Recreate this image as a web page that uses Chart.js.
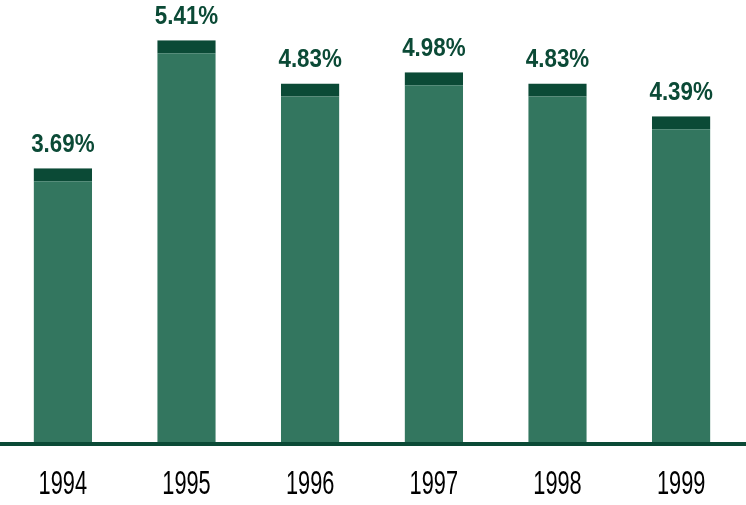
<!DOCTYPE html>
<html>
<head>
<meta charset="utf-8">
<script src="https://cdn.jsdelivr.net/npm/chart.js@4"></script>
<style>
  html, body { margin: 0; padding: 0; background: #fff; }
  #wrap { width: 746px; height: 505px; }
</style>
</head>
<body>
<div id="wrap"><canvas id="chart" width="746" height="505"></canvas></div>
<script>
// data
const years = ["1994", "1995", "1996", "1997", "1998", "1999"];
const rates = [3.69, 5.41, 4.83, 4.98, 4.83, 4.39];

const barColor = "#33765f";
const capColor = "#0b4a36";

// no condensed font installed, so squeeze the text horizontally
function narrowText(ctx, text, x, y, sx) {
  ctx.save();
  ctx.translate(x, y);
  ctx.scale(sx, 1);
  ctx.fillText(text, 0, 0);
  ctx.restore();
}

// value labels, year labels and baseline
const extras = {
  id: "extras",
  afterDatasetsDraw(chart) {
    let ctx = chart.ctx;
    let meta = chart.getDatasetMeta(0);
    let xs = chart.scales.x;
    let y0 = chart.scales.y.getPixelForValue(0);

    ctx.save();
    ctx.fillStyle = capColor;
    ctx.fillRect(0, y0 - 1, chart.width, 4);

    ctx.textAlign = "center";
    ctx.textBaseline = "alphabetic";
    ctx.font = "bold 26px 'Liberation Sans', Arial, sans-serif";
    meta.data.forEach((bar, i) => {
      narrowText(ctx, rates[i].toFixed(2) + "%", bar.x, bar.y - 16, 0.86);
    });

    ctx.fillStyle = "#000";
    ctx.font = "33px 'Liberation Sans', Arial, sans-serif";
    chart.data.labels.forEach((lab, i) => {
      narrowText(ctx, lab, xs.getPixelForTick(i), y0 + 51, 0.66);
    });
    ctx.restore();
  }
};

let ctx = document.getElementById("chart").getContext("2d");

let chart = new Chart(ctx, {
  type: "bar",
  data: {
    labels: years,
    datasets: [{
      data: rates,
      backgroundColor: barColor,
      borderColor: capColor,
      borderWidth: { top: 13, left: 0, right: 0, bottom: 0 },
      borderSkipped: false,
      barPercentage: 0.473,
      categoryPercentage: 1
    }]
  },
  options: {
    responsive: false,
    animation: false,
    layout: { padding: { top: 0, left: 1, right: 3, bottom: 62 } },
    plugins: {
      legend: { display: false },
      tooltip: { enabled: false }
    },
    scales: {
      x: {
        grid: { display: false, drawTicks: false },
        border: { display: false },
        ticks: { display: false }
      },
      y: {
        display: false,
        min: 0,
        max: 5.95
      }
    }
  },
  plugins: [extras]
});
</script>
</body>
</html>
